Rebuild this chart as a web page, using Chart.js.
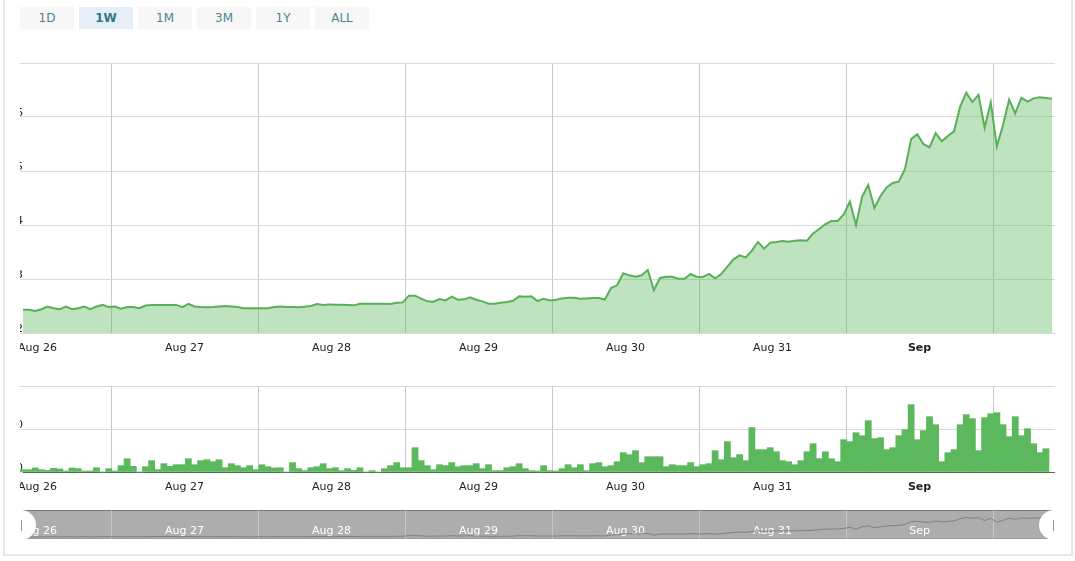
<!DOCTYPE html>
<html><head><meta charset="utf-8">
<script src="https://cdn.jsdelivr.net/npm/chart.js@4"></script>
<style>
html,body{margin:0;padding:0;background:#fff;overflow:hidden;width:1075px;height:561px}
#frame{position:absolute;left:3px;top:-6px;width:1066px;height:558px;border:2px solid #e2e8ec}
.btn{position:absolute;top:7px;width:54px;height:22px;line-height:22px;background:#f7f7f7;color:#4a8591;font:12px/22px "DejaVu Sans",sans-serif;text-align:center}
.btn.on{background:#e6eff7;font-weight:bold;color:#2f7585}
canvas{position:absolute;left:20px}
#navbg{position:absolute;left:20px;top:510px;width:1035px;height:29px;background:#adadad;box-sizing:border-box;border-top:1px solid #777;border-bottom:1px solid #999}
.hnd{position:absolute;top:510px;width:16px;height:30px;background:#fff}
#hl{left:20px;border-radius:0 15px 15px 0}
#hr{left:1039px;border-radius:15px 0 0 15px}
.grip{position:absolute;top:10px;width:1px;height:11px;background:#999}
</style></head><body>
<div id="frame"></div>
<div class="btn" style="left:20px">1D</div>
<div class="btn on" style="left:79px">1W</div>
<div class="btn" style="left:138px">1M</div>
<div class="btn" style="left:197px">3M</div>
<div class="btn" style="left:256px">1Y</div>
<div class="btn" style="left:315px">ALL</div>
<canvas id="main" width="1035" height="305" style="top:55px"></canvas>
<canvas id="vol" width="1035" height="120" style="top:378px"></canvas>
<div id="navbg"></div>
<canvas id="nav" width="1035" height="29" style="top:510px"></canvas>
<div class="hnd" id="hl"><div class="grip" style="left:1px"></div></div>
<div class="hnd" id="hr"><div class="grip" style="left:14px"></div></div>
<script>
const dateLabels = ['Aug 26','Aug 27','Aug 28','Aug 29','Aug 30','Aug 31','Sep',''];
const dateTickHours = [-9.63,14.37,38.37,62.37,86.37,110.37,134.37,158.37];
const priceTicks = ['2','3','4','5','6',''];
const volumeTicks = ['0','50',''];
const priceValues = [
2.43,2.43,2.41,2.44,2.49,2.46,2.44,2.49,2.44,2.46,
2.49,2.44,2.49,2.52,2.48,2.49,2.45,2.48,2.48,2.46,
2.51,2.52,2.52,2.52,2.52,2.52,2.48,2.54,2.49,2.48,
2.475,2.48,2.49,2.5,2.49,2.48,2.46,2.46,2.46,2.46,
2.46,2.48,2.49,2.48,2.48,2.475,2.487,2.5,2.537,2.518,
2.53,2.524,2.524,2.518,2.512,2.543,2.543,2.543,2.543,2.543,
2.537,2.561,2.567,2.691,2.691,2.635,2.586,2.58,2.629,2.604,
2.672,2.617,2.623,2.66,2.617,2.586,2.543,2.543,2.561,2.574,
2.598,2.679,2.672,2.679,2.592,2.635,2.604,2.617,2.641,2.654,
2.654,2.635,2.641,2.648,2.648,2.62,2.833,2.883,3.105,3.068,
3.043,3.068,3.167,2.796,3.019,3.043,3.043,3.006,3.006,3.093,
3.043,3.037,3.093,3.012,3.093,3.228,3.364,3.438,3.401,3.525,
3.685,3.562,3.673,3.685,3.704,3.691,3.71,3.716,3.71,3.845,
3.926,4.018,4.074,4.074,4.197,4.432,4.0,4.524,4.74,4.314,
4.537,4.697,4.777,4.808,5.037,5.592,5.679,5.5,5.438,5.703,
5.549,5.648,5.734,6.191,6.45,6.277,6.413,5.802,6.271,5.456,
5.852,6.321,6.068,6.358,6.284,6.345,6.364,6.352,6.339];
const volumeValues = [
2.7,2.7,4.7,2.7,1.9,4.3,3.5,1.2,4.7,3.9,
1.2,1.2,5,0,3.9,1.2,7.4,15.5,6.6,0,
6.2,13.2,2.7,9.7,6.6,8.5,8.5,15.5,8.5,13.2,
14.3,12,14.3,5,9.7,7.4,5,7.4,2.7,8.5,
6.2,4.7,5,0,10.9,3.9,1.6,5,6.2,9.7,
3.9,5,1.6,3.9,1.9,5,0,1.6,0,3.9,
7.4,10.9,5,5,28.3,13.2,7.4,2.7,8.5,7.4,
10.9,6.2,7.4,7.4,9.7,3.9,8.5,1.6,1.6,5,
6.2,9.7,3.9,1.6,1.2,7.4,1.6,1.2,3.9,8.5,
5,8.5,1.6,9.7,10.9,6.2,7.4,12,22.5,20.2,
24.8,10.9,17.8,17.8,17.8,6.2,8.5,7.4,7.4,10.9,
6.2,8.5,9.7,24.8,14.3,35.3,16.7,20.2,13.2,51.6,
26,26,28.3,23.6,13.2,12,8.5,13.2,23.6,32.9,
15.5,23.6,15.5,12,37.6,35.3,45.7,42.2,59.7,38.8,
39.9,26,28.3,42.2,49.2,78.3,37.6,48.1,64.3,55,
12,22.5,26,55,66.7,62,24.8,63.2,67.8,69,
55,41.1,64.3,42.2,50.4,32.9,22.5,27.1];

const FONT = '"DejaVu Sans", sans-serif';
const hourMax = 168.49;
const xy = arr => arr.map((v,i)=>({x:i,y:v}));

function xAxis(o){
  return {
    type:'linear', min:0, max:hourMax, position:'bottom', offset:false,
    afterBuildTicks(s){ s.ticks = dateTickHours.map(v=>({value:v})); },
    afterFit(s){ s.height = o.height; s.paddingLeft=0; s.paddingRight=0; },
    grid:{color:o.gridColor||'#c9c9c9',lineWidth:1,drawTicks:false,offset:false},
    border:o.border||{display:false},
    ticks:{
      autoSkip:false, maxRotation:0, minRotation:0, includeBounds:false,
      padding:o.padding, labelOffset:73.5, mirror:!!o.mirror,
      color:o.color||'#222',
      font:ctx=>({family:FONT,size:11,weight:(o.boldSep&&ctx.index===6)?'bold':'normal'}),
      callback:(v,i)=>dateLabels[i]
    }
  };
}
function yAxis(min,max,step,labels,lift){
  return {
    type:'linear', min, max, position:'left',
    afterFit(s){ s.width=3; s.paddingTop=0; s.paddingBottom=0; },
    grid:{color:'#d9d9d9',lineWidth:1,drawTicks:true,tickLength:3},
    border:{display:false},
    ticks:{stepSize:step,padding:-3,labelOffset:lift,color:'#222',
      font:{family:FONT,size:11},
      callback:(v,i)=>labels[i]}
  };
}
const common = {responsive:false,maintainAspectRatio:false,animation:false,
  plugins:{legend:{display:false},tooltip:{enabled:false},title:{display:false}}};

new Chart(document.getElementById('main'),{
  type:'line',
  data:{datasets:[{data:xy(priceValues),borderColor:'#59b059',borderWidth:2,
    backgroundColor:'rgba(92,184,92,0.4)',fill:'start',pointRadius:0,tension:0}]},
  options:{...common,layout:{padding:{top:8,left:0,right:0,bottom:0}},
    scales:{x:xAxis({height:27,padding:9,boldSep:true}),y:yAxis(2,7,1,priceTicks,-4)}}
});
new Chart(document.getElementById('vol'),{
  type:'bar',
  data:{datasets:[{data:xy(volumeValues),backgroundColor:'#5cb85c',borderWidth:0,
    barThickness:6.125,clip:4}]},
  options:{...common,layout:{padding:{top:8,left:0,right:0,bottom:0}},
    scales:{x:xAxis({height:26,padding:9,boldSep:true,border:{display:true,color:'#4f6f4f',width:1}}),
            y:yAxis(0,100,50,volumeTicks,-4)}}
});
new Chart(document.getElementById('nav'),{
  type:'line',
  data:{datasets:[{data:xy(priceValues),borderColor:'#808080',borderWidth:1,fill:false,pointRadius:0,tension:0}]},
  options:{...common,layout:{padding:{left:3,top:0,right:0,bottom:0}},
    scales:{x:xAxis({height:0,padding:1,mirror:true,color:'#fff',gridColor:'rgba(255,255,255,0.3)'}),
            y:{type:'linear',min:2,max:8,display:false}}}
});
</script>
</body></html>
